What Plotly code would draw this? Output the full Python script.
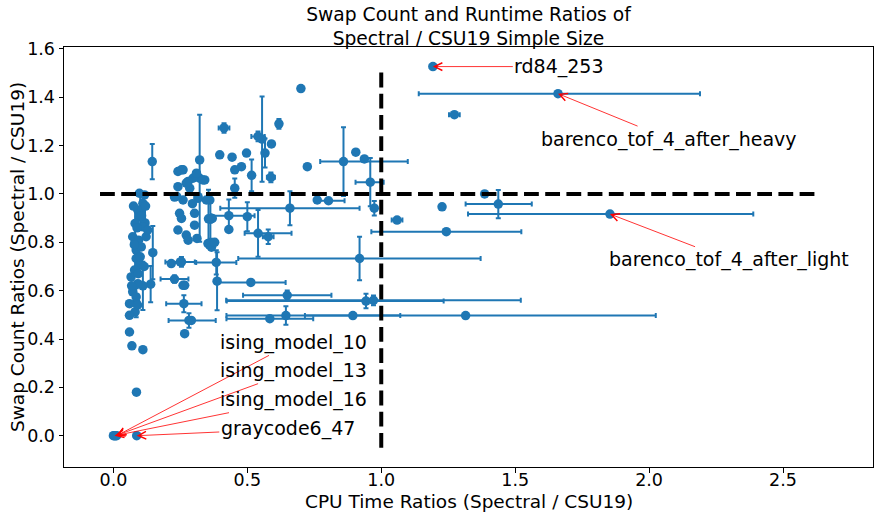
import plotly.graph_objects as go

BLUE = "#1f77b4"
FONT = "DejaVu Sans"

# ---------------- data ----------------
# points without visible error bars (CPU time ratio, swap count ratio)
plain_cpu = [0.70, 0.397, 0.443, 0.497, 0.453, 0.478, 0.59, 0.724, 0.905, 0.937,
             1.227, 1.386, 0.761, 0.322,
             0.241, 0.26, 0.297, 0.279, 0.341, 0.241, 0.285, 0.228, 0.26, 0.316,
             0.36, 0.347, 0.334, 0.31, 0.254, 0.272,
             0.247, 0.254, 0.303, 0.303, 0.241, 0.272, 0.279, 0.312, 0.353, 0.36,
             0.366, 0.378, 0.369, 0.316, 0.431, 0.236, 0.295,
             0.216, 0.25, 0.266, 0.26, 0.266, 0.291,
             0.097, 0.116, 0.11, 0.091, 0.097, 0.081, 0.11, 0.072, 0.094, 0.122,
             0.128, 0.085, 0.104, 0.085, 0.097, 0.079, 0.066, 0.091, 0.072, 0.085,
             0.06, 0.081, 0.06, 0.06, 0.069, 0.11, 0.086,
             0.075, 0.088, 0.10, 0.093, 0.078, 0.12, 0.105, 0.115, 0.068, 0.09,
             0.0, 0.004, 0.008, 0.012, 0.087]
plain_swap = [1.436, 1.162, 1.152, 1.169, 1.10, 1.113, 1.207, 1.113, 1.173, 1.145,
              0.947, 1.0, 0.975, 1.141,
              1.093, 1.10, 1.065, 1.052, 1.058, 1.03, 1.024, 0.987, 0.975, 0.982,
              0.975, 0.975, 1.058, 1.086, 1.10, 1.045,
              0.92, 0.899, 0.92, 0.871, 0.851, 0.83, 0.809, 0.816, 0.795, 0.795,
              0.78, 0.80, 0.899, 0.989, 0.853, 0.99, 0.96,
              0.712, 0.719, 0.622, 0.622, 0.422, 0.477,
              1.003, 0.996, 0.961, 0.934, 0.906, 0.878, 0.864, 0.823, 0.809, 0.823,
              0.851, 0.768, 0.781, 0.733, 0.705, 0.685, 0.657, 0.629, 0.595, 0.574,
              0.546, 0.512, 0.498, 0.429, 0.372, 0.356, 0.18,
              0.95, 0.86, 0.74, 0.67, 0.79, 0.95, 0.91, 0.70, 0.62, 0.54,
              0.0, 0.0, 0.0, 0.0, 0.0]

# points with error bars
err_cpu = [1.193, 1.66, 1.273, 0.413, 0.618, 0.555, 0.54, 0.516, 0.588, 0.859,
           0.959, 0.974, 1.059, 0.803, 0.659, 0.431, 0.50, 0.54, 0.578, 0.362,
           0.355, 0.322, 0.453, 1.243, 1.437, 1.854, 0.919, 0.384, 0.387, 0.513,
           0.649, 0.943, 0.971, 0.584, 0.644, 0.894, 1.315, 0.145, 0.147, 0.139,
           0.228, 0.263, 0.282, 0.254, 0.081, 0.10, 0.118, 0.085, 0.11, 0.566]
err_swap = [1.527, 1.415, 1.328, 1.273, 1.29, 1.227, 1.238, 1.077, 1.069, 1.134,
            1.049, 0.941, 0.892, 0.972, 0.941, 0.91, 0.906, 0.837, 0.823, 0.895,
            0.897, 1.065, 1.024, 0.844, 0.958, 0.917, 0.733, 0.717, 0.639, 0.634,
            0.581, 0.557, 0.56, 0.484, 0.497, 0.497, 0.497, 1.134, 0.757, 0.627,
            0.648, 0.546, 0.477, 0.719, 0.80, 0.93, 0.88, 0.55, 0.62, 1.169]
err_cpu_minus = [0.012, 0.52, 0.02, 0.02, 0.01, 0.0, 0.025, 0.0, 0.015, 0.087,
                 0.055, 0.0, 0.02, 0.05, 0.26, 0.065, 0.0, 0.05, 0.02, 0.0,
                 0.0, 0.0, 0.0, 0.28, 0.122, 0.53, 0.453, 0.075, 0.0, 0.12,
                 0.165, 0.52, 0.55, 0.162, 0.0, 0.472, 0.60, 0.0, 0.0, 0.0,
                 0.052, 0.066, 0.076, 0.06, 0.0, 0.0, 0.0, 0.0, 0.0, 0.0]
err_cpu_plus = [0.012, 0.53, 0.02, 0.02, 0.01, 0.0, 0.025, 0.0, 0.015, 0.24,
                0.05, 0.0, 0.02, 0.06, 0.26, 0.096, 0.0, 0.125, 0.02, 0.0,
                0.0, 0.0, 0.0, 0.28, 0.125, 0.535, 0.452, 0.075, 0.0, 0.13,
                0.165, 0.29, 0.55, 0.162, 0.0, 0.177, 0.71, 0.0, 0.0, 0.0,
                0.052, 0.066, 0.10, 0.05, 0.0, 0.0, 0.0, 0.0, 0.0, 0.0]
err_swap_pm = [0.006, 0.0, 0.008, 0.02, 0.02, 0.176, 0.02, 0.066, 0.02, 0.142,
               0.10, 0.03, 0.0, 0.0, 0.07, 0.067, 0.06, 0.097, 0.03, 0.08,
               0.12, 0.263, 0.04, 0.0, 0.058, 0.0, 0.09, 0.05, 0.12, 0.0,
               0.02, 0.03, 0.02, 0.0, 0.038, 0.0, 0.0, 0.073, 0.11, 0.075,
               0.015, 0.035, 0.03, 0.02, 0.14, 0.07, 0.06, 0.06, 0.10, 0.06]

# labelled circuits
label_names = ["rd84_253", "barenco_tof_4_after_heavy", "barenco_tof_4_after_light",
               "ising_model_10", "ising_model_13", "ising_model_16", "graycode6_47"]
label_cpu = [1.193, 1.66, 1.854, 0.012, 0.008, 0.004, 0.087]
label_swap = [1.527, 1.415, 0.917, 0.0, 0.0, 0.0, 0.0]

x_ticks = [0.0, 0.5, 1.0, 1.5, 2.0, 2.5]
y_ticks = [0.0, 0.2, 0.4, 0.6, 0.8, 1.0, 1.2, 1.4, 1.6]

title_text = "Swap Count and Runtime Ratios of<br>Spectral / CSU19 Simple Size"
x_title = "CPU Time Ratios (Spectral / CSU19)"
y_title = "Swap Count Ratios (Spectral / CSU19)"

# reference lines (ratio == 1)
ref_level = 1.0
hline_span = [-0.05, 2.63]
vline_span = [-0.05, 1.514]

# ---------------- figure ----------------
fig = go.Figure()

fig.add_trace(go.Scatter(
    x=err_cpu, y=err_swap, mode="markers",
    marker=dict(color=BLUE, size=9.5),
    error_x=dict(type="data", symmetric=False, array=err_cpu_plus,
                 arrayminus=err_cpu_minus, color=BLUE, thickness=2, width=2.5),
    error_y=dict(type="data", array=err_swap_pm, color=BLUE, thickness=2, width=2.5),
    showlegend=False, hoverinfo="skip"))

fig.add_trace(go.Scatter(
    x=plain_cpu, y=plain_swap, mode="markers",
    marker=dict(color=BLUE, size=9.5),
    showlegend=False, hoverinfo="skip"))

dash = "14.8px,6.4px"
fig.add_trace(go.Scatter(x=hline_span, y=[ref_level, ref_level], mode="lines",
                         line=dict(color="black", width=4, dash=dash),
                         showlegend=False, hoverinfo="skip"))
fig.add_trace(go.Scatter(x=[ref_level, ref_level], y=vline_span, mode="lines",
                         line=dict(color="black", width=4, dash=dash),
                         showlegend=False, hoverinfo="skip"))

# text positions for the labels (data coordinates of the text centre)
text_pos = [(1.663, 1.527), (2.076, 1.227), (2.298, 0.728),
            (0.673, 0.386), (0.673, 0.269), (0.673, 0.149), (0.651, 0.028)]

annotations = []
for name, px, py, (tx, ty) in zip(label_names, label_cpu, label_swap, text_pos):
    annotations.append(dict(
        x=px, y=py, xref="x", yref="y", ax=tx, ay=ty, axref="x", ayref="y",
        text=name, showarrow=True, arrowhead=5, arrowsize=1.9, arrowwidth=0.8,
        arrowcolor="red", standoff=0,
        font=dict(family=FONT, size=19, color="black")))

annotations.append(dict(
    text=x_title, xref="paper", yref="paper", x=0.5, y=-0.0826,
    xanchor="center", yanchor="middle", showarrow=False,
    font=dict(family=FONT, size=18.5, color="black")))
annotations.append(dict(
    text=y_title, xref="paper", yref="paper", x=-0.058, y=0.5,
    xanchor="center", yanchor="middle", textangle=-90, showarrow=False,
    font=dict(family=FONT, size=18.5, color="black")))

fig.update_layout(
    width=874, height=518,
    margin=dict(l=64, r=1, t=47, b=51),
    paper_bgcolor="white", plot_bgcolor="white",
    font=dict(family=FONT, size=17.5, color="black"),
    title=dict(text=title_text, x=0.5, xref="paper", y=1 - 21 / 518,
               yref="container", xanchor="center", yanchor="middle",
               font=dict(family=FONT, size=18.7, color="black")),
    annotations=annotations,
    xaxis=dict(range=[-0.1845, 2.836], tickvals=x_ticks,
               ticktext=[f"{v:.1f}" for v in x_ticks],
               showgrid=False, zeroline=False, showline=True, mirror=True,
               linecolor="black", linewidth=1, ticks="outside", ticklen=4.5,
               tickcolor="black", tickwidth=1, ticklabelstandoff=-8,
               tickfont=dict(family=FONT, size=17.5, color="black")),
    yaxis=dict(range=[-0.1295, 1.608], tickvals=y_ticks,
               ticktext=[f"{v:.1f}" for v in y_ticks],
               showgrid=False, zeroline=False, showline=True, mirror=True,
               linecolor="black", linewidth=1, ticks="outside", ticklen=4.5,
               tickcolor="black", tickwidth=1,
               tickfont=dict(family=FONT, size=17.5, color="black")),
)

fig.write_html("out.html",
               config={"displayModeBar": False},
               post_script="document.body.style.margin='0';"
                           "document.body.style.overflow='hidden';")
